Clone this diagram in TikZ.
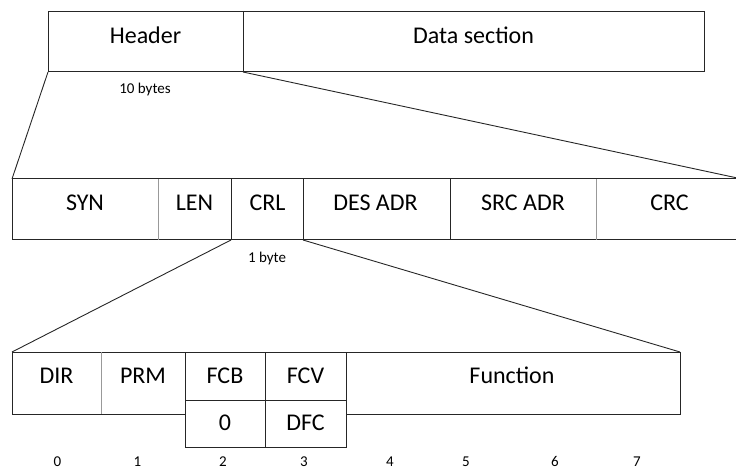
\documentclass[tikz,border=0pt]{standalone}
\usepackage{fontspec}
\setmainfont{Carlito}
\begin{document}
\begin{tikzpicture}[x=1pt,y=-1pt,
  cell/.style={inner sep=0pt, outer sep=0pt, minimum width=#1},
  frame/.style={draw=black!85, line width=1pt},
  divgray/.style={draw=black!40, line width=1pt},
  conn/.style={draw=black!85, line width=0.9pt},
  big/.style={font=\fontsize{24}{28}\selectfont, anchor=base, inner sep=0pt},
  small/.style={font=\fontsize{15}{18}\selectfont, anchor=base, inner sep=0pt}]
\useasboundingbox (0,0) rectangle (736,470);
% top row
\node[cell=195, minimum height=60] (hdr) at (145.5,42) {};
\node[cell=461, minimum height=60] (data) at (473.5,42) {};
% middle row
\node[cell=146, minimum height=61] (syn) at (85,209.5) {};
\node[cell=73, minimum height=61] (len) at (194.5,209.5) {};
\node[cell=72, minimum height=61] (crl) at (267,209.5) {};
\node[cell=147, minimum height=61] (des) at (376.5,209.5) {};
\node[cell=146, minimum height=61] (src) at (523,209.5) {};
\node[cell=146, minimum height=61] (crc) at (669,209.5) {};
% bottom row
\node[cell=89, minimum height=62] (dir) at (56.5,383) {};
\node[cell=84, minimum height=62] (prm) at (143,383) {};
\node[cell=80, minimum height=48] (fcb) at (225,376) {};
\node[cell=81, minimum height=48] (fcv) at (305.5,376) {};
\node[cell=80, minimum height=47] (zero) at (225,423.5) {};
\node[cell=81, minimum height=47] (dfc) at (305.5,423.5) {};
\node[cell=334, minimum height=62] (fun) at (513,383) {};

% frames
\draw[frame] (hdr.north west) rectangle (data.south east);
\draw[frame] (hdr.north east) -- (hdr.south east);

\draw[frame] (syn.north west) rectangle (crc.south east);
\draw[divgray] (syn.north east) -- (syn.south east);
\draw[frame] (len.north east) -- (len.south east);
\draw[frame] (crl.north east) -- (crl.south east);
\draw[frame] (des.north east) -- (des.south east);
\draw[divgray] (src.north east) -- (src.south east);

\draw[frame] (dir.north west) rectangle (prm.south east);
\draw[divgray] (dir.north east) -- (dir.south east);
\draw[frame] (fcb.north west) rectangle (dfc.south east);
\draw[frame] (fcb.north east) -- (zero.south east);
\draw[frame] (fcb.south west) -- (fcv.south east);
\draw[frame] (fun.north west) rectangle (fun.south east);

% connectors
\draw[conn] (hdr.south west) -- (syn.north west);
\draw[conn] (hdr.south east) -- (crc.north east);
\draw[conn] (crl.south west) -- (dir.north west);
\draw[conn] (crl.south east) -- (fun.north east);

% texts
\node[big] (thdr) at (145.5,43.3) {Header};
\node[big] (tdata) at (473.5,43.3) {Data section};
\node[small] (t10) at (145,93.3) {10 bytes};

\node[big] (tsyn) at (85,211) {SYN};
\node[big] (tlen) at (194.5,211) {LEN};
\node[big] (tcrl) at (267.5,211) {CRL};
\node[big] (tdes) at (375.5,211) {DES ADR};
\node[big] (tsrc) at (523,211) {SRC ADR};
\node[big] (tcrc) at (669.5,211) {CRC};
\node[small] (t1b) at (267,262.7) {1 byte};

\node[big] (tdir) at (56.5,383.5) {DIR};
\node[big] (tprm) at (143,383.5) {PRM};
\node[big] (tfcb) at (225,383.5) {FCB};
\node[big] (tfcv) at (305.5,383.5) {FCV};
\node[big] (tfun) at (512,383.5) {Function};
\node[big] (tzero) at (225,430.7) {0};
\node[big] (tdfc) at (305.5,430.7) {DFC};

\node[small] (n0) at (57.5,466.5) {0};
\node[small] (n1) at (137.5,466.5) {1};
\node[small] (n2) at (223,466.5) {2};
\node[small] (n3) at (304,466.5) {3};
\node[small] (n4) at (390,466.5) {4};
\node[small] (n5) at (466,466.5) {5};
\node[small] (n6) at (555,466.5) {6};
\node[small] (n7) at (637,466.5) {7};
\end{tikzpicture}
\end{document}
